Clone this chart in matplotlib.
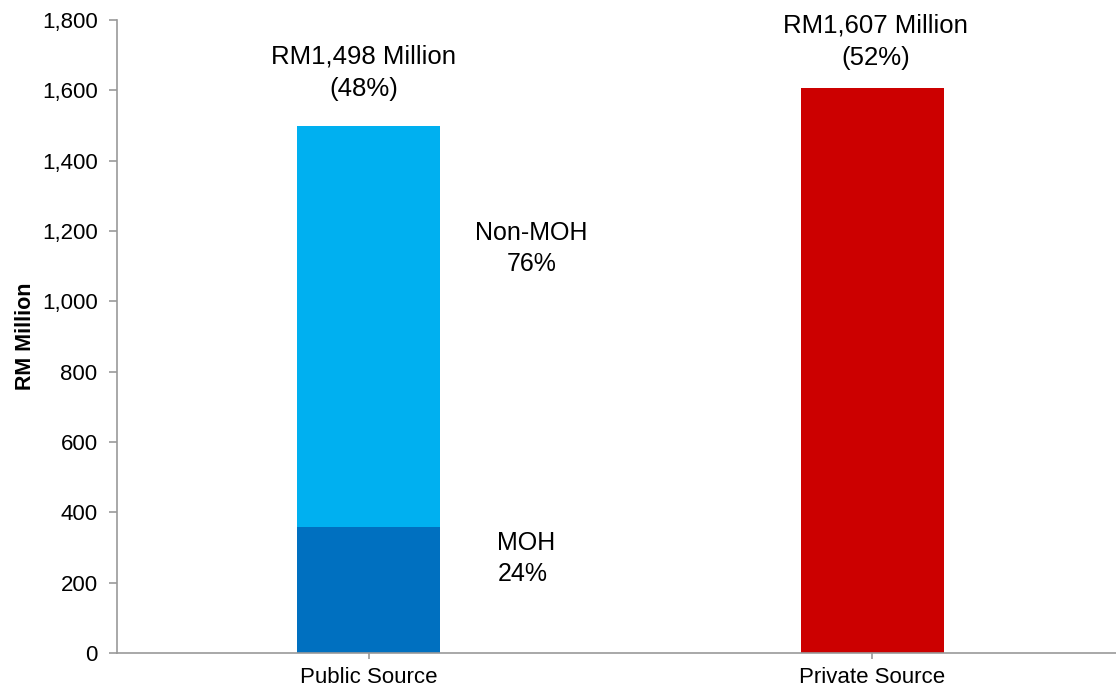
import matplotlib
matplotlib.use("Agg")
import matplotlib.pyplot as plt

plt.rcParams['font.family'] = ['Liberation Sans', 'DejaVu Sans']

categories = ["Public Source", "Private Source"]
public_total = 1498
private_total = 1607
moh_share = 0.24
nonmoh_share = 0.76
moh_value = public_total * moh_share
nonmoh_value = public_total * nonmoh_share
total_labels = ["RM1,498 Million\n(48%)", "RM1,607 Million\n(52%)"]
yticks = [0, 200, 400, 600, 800, 1000, 1200, 1400, 1600, 1800]

fig = plt.figure(figsize=(11.16, 6.93), dpi=100)
ax = fig.add_axes([117 / 1116, 40 / 693, 999 / 1116, 633 / 693])

width = 0.284
ax.bar(0, moh_value, width=width, color="#0070C0")
ax.bar(0, nonmoh_value, width=width, bottom=moh_value, color="#00B0F0")
ax.bar(1, private_total, width=width, color="#CC0000")

ax.set_xlim(-0.5, 1.484)
ax.set_ylim(0, 1800)
ax.set_xticks([0, 1])
ax.set_xticklabels(categories, fontsize=16)
ax.set_yticks(yticks)
ax.set_yticklabels([f"{v:,}" for v in yticks], fontsize=16)
ax.set_ylabel("RM Million", fontsize=15.5, fontweight="bold", labelpad=4)

for s in ["top", "right"]:
    ax.spines[s].set_visible(False)
for s in ["left", "bottom"]:
    ax.spines[s].set_color("#999999")
    ax.spines[s].set_linewidth(1.2)
ax.tick_params(axis="y", length=6, color="#999999", width=1.2, pad=8)
ax.tick_params(axis="x", length=4, color="#999999", width=1.2, pad=6)

# totals above each bar
ax.text(-0.01, 1651, total_labels[0], ha="center", va="center",
        fontsize=18.5, linespacing=1.45)
ax.text(1.007, 1739, total_labels[1], ha="center", va="center",
        fontsize=18.5, linespacing=1.45)

# segment shares beside the public bar
ax.text(0.323, 1150, f"Non-MOH\n{nonmoh_share:.0%}",
        ha="center", va="center", fontsize=18, linespacing=1.35)
ax.text(0.2555, 268, f"MOH\n{moh_share:.0%}",
        ha="left", va="center", fontsize=18, linespacing=1.35)

fig.savefig("out.png", dpi=100)
